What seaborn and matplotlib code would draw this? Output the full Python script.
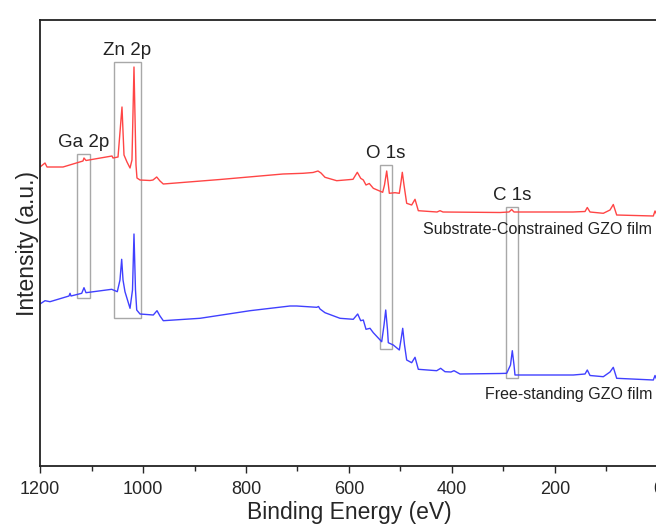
import pandas as pd
import matplotlib.pyplot as plt
import seaborn as sns
from matplotlib.patches import Rectangle
from matplotlib.ticker import MultipleLocator

# XPS survey spectra (binding energy in eV, intensity in a.u.)
substrate_energy = [1200, 1190.3, 1186.4, 1155.3, 1116.5, 1114.6, 1110.7, 1060.2, 1058.3, 1048.5,
                    1040.8, 1036.9, 1031.1, 1025.2, 1021.4, 1017.5, 1013.6, 1011.7, 1005.8, 986.4,
                    980.6, 973.4, 967.0, 960.6, 850.5, 728.2, 689.3, 669.9, 660.2, 654.4,
                    646.6, 623.9, 607.8, 592.2, 583.9, 577.3, 572.2, 567.0, 560.6, 552.8,
                    534.6, 531.1, 526.8, 523.3, 521.7, 510.7, 502.3, 499.0, 496.5, 493.2,
                    488.0, 478.3, 471.8, 465.4, 429.1, 423.3, 417.5, 306.8, 289.3, 284.1,
                    279.6, 165.0, 141.7, 137.3, 132.0, 106.2, 93.2, 86.8, 80.2, 9.1,
                    5.8, 2.9, 0]
substrate_intensity = [299, 303, 299, 299, 305, 308, 305.5, 310, 308, 309,
                       359, 311, 304, 298, 306, 399, 301, 288, 286, 285.5,
                       286, 289, 285, 282, 286.5, 292, 292.7, 293.5, 295, 293,
                       288.7, 285.3, 286, 286.7, 293.7, 287.7, 286, 281, 282.5, 277.7,
                       273.7, 281, 295, 280, 272.7, 273.3, 272.7, 284, 293.7, 281,
                       262.7, 261, 266.7, 255.3, 254, 255.3, 254, 253.5, 254, 256.5,
                       254, 254, 254.5, 258.5, 254, 252.7, 256, 261.5, 251, 250,
                       255, 252, 250]

free_energy = [1200, 1190.3, 1180.6, 1143.7, 1141.7, 1139.8, 1119.0, 1114.6, 1110.7, 1060.8,
               1049.9, 1044.7, 1041.4, 1038.8, 1035.0, 1025.2, 1020.4, 1017.5, 1014.6, 1012.2,
               1005.8, 980.0, 972.8, 967.0, 960.6, 889.3, 792.2, 714.6, 701.6, 662.6,
               659.2, 656.3, 646.6, 617.5, 591.7, 583.1, 577.3, 572.2, 567.0, 559.2,
               552.8, 536.5, 532.0, 528.7, 525.2, 523.7, 514.0, 502.3, 498.5, 495.7,
               492.2, 488.0, 478.3, 471.8, 465.4, 429.7, 422.0, 413.6, 402.0, 396.1,
               384.5, 306.8, 293.8, 286.4, 282.9, 279.6, 277.7, 164.5, 141.7, 137.3,
               132.0, 106.2, 93.2, 86.8, 80.2, 9.1, 5.8, 2.9, 0]
free_intensity = [162, 165.3, 164.3, 170, 172.7, 170, 172.7, 178.3, 173.3, 176.7,
                  174.3, 186, 206.7, 186, 174.3, 157.7, 176, 232, 176, 156,
                  152, 151, 155.3, 150, 145.3, 147.7, 155.3, 160, 160, 158.7,
                  159.5, 157, 153.3, 147.7, 146.7, 152, 145.3, 146, 136.7, 137.7,
                  133.3, 124.3, 141, 156, 136, 123.3, 121, 116, 128, 137.7,
                  121, 106, 103.3, 108.7, 96.7, 95.3, 97.7, 94.3, 94, 95.3,
                  92, 92.5, 92.7, 101, 115.3, 101, 91, 91, 92, 96,
                  90.5, 89.3, 94, 98.7, 87.7, 86, 90.5, 87, 86]

# peak regions: label, energy range, intensity range
peak_labels = ["Ga 2p", "Zn 2p", "O 1s", "C 1s"]
peak_e_low = [1103, 1004.5, 516, 271.3]
peak_e_high = [1127.6, 1056.3, 539.8, 295.1]
peak_i_low = [168.3, 147.7, 117, 87.7]
peak_i_high = [311.7, 404.3, 300.7, 259.3]

sns.set_style("white")
plt.rcParams['font.family'] = ['Liberation Sans', 'DejaVu Sans']

df_sub = pd.DataFrame({"energy": substrate_energy, "intensity": substrate_intensity})
df_free = pd.DataFrame({"energy": free_energy, "intensity": free_intensity})

fig = plt.figure(figsize=(6.56, 5.25), dpi=100)
ax = fig.add_axes([40 / 656, 1 - 466 / 525, 618 / 656, 446 / 525])

sns.lineplot(x="energy", y="intensity", data=df_sub, color="#ff4545", lw=1, estimator=None, ax=ax)
sns.lineplot(x="energy", y="intensity", data=df_free, color="#4040ff", lw=1, estimator=None, ax=ax)

for lab, e0, e1, i0, i1 in zip(peak_labels, peak_e_low, peak_e_high, peak_i_low, peak_i_high):
    ax.add_patch(Rectangle((e0, i0), e1 - e0, i1 - i0, fill=False, ec="#a8a8a8", lw=1))
    ax.text((e0 + e1) / 2, i1 + 3, lab, ha="center", va="bottom", fontsize=13.5, color="#222222")

ax.text(11.7, 237, "Substrate-Constrained GZO film", ha="right", va="center", fontsize=11.5, color="#222222")
ax.text(11.7, 71, "Free-standing GZO film", ha="right", va="center", fontsize=11.5, color="#222222")

ax.set_xlim(1200, 0)
ax.set_ylim(0, 446)
ax.xaxis.set_major_locator(MultipleLocator(200))
ax.xaxis.set_minor_locator(MultipleLocator(100))
ax.tick_params(axis="x", which="major", direction="out", length=5, width=1, labelsize=13, pad=6, bottom=True)
ax.tick_params(axis="x", which="minor", direction="out", length=3.5, width=1, bottom=True)
ax.set_yticks([])
for s in ax.spines.values():
    s.set_color("#222222")
    s.set_linewidth(1.3)
ax.set_xlabel("Binding Energy (eV)", fontsize=16.5, labelpad=2)
ax.set_ylabel("Intensity (a.u.)", fontsize=16.5, labelpad=1)

plt.savefig("out.png", dpi=100)
